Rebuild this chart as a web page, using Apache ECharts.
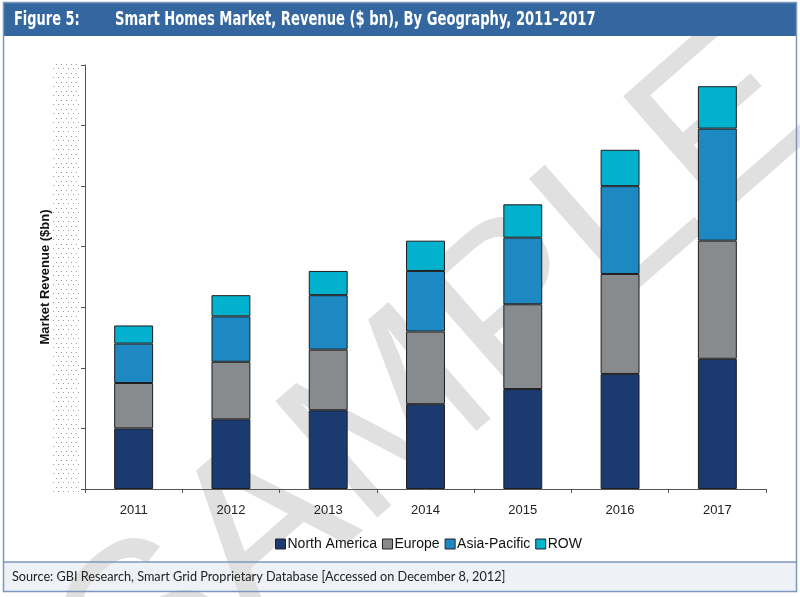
<!DOCTYPE html>
<html>
<head>
<meta charset="utf-8">
<script src="https://cdn.jsdelivr.net/npm/echarts@6/dist/echarts.min.js"></script>
<style>
  html, body { margin: 0; padding: 0; background: #fff; }
  #chart1 { width: 800px; height: 597px; }
</style>
</head>
<body>
<div id="chart1"></div>
<script>
// data ($bn, axis 0-14 with hidden labels)
var years = ["2011", "2012", "2013", "2014", "2015", "2016", "2017"];
var northAmerica = [2.0, 2.3, 2.6, 2.8, 3.3, 3.8, 4.3];
var europe = [1.5, 1.9, 2.0, 2.4, 2.8, 3.3, 3.9];
var asiaPacific = [1.3, 1.5, 1.8, 2.0, 2.2, 2.9, 3.7];
var row = [0.6, 0.7, 0.8, 1.0, 1.1, 1.2, 1.4];
var seriesNames = ["North America", "Europe", "Asia-Pacific", "ROW"];
var seriesColors = ["#1a3a70", "#878b8e", "#1e88c3", "#02b1cd"];

// small dotted pattern that hides the value labels
var dots = document.createElement("canvas");
dots.width = 5;
dots.height = 9;
var dc = dots.getContext("2d");
dc.fillStyle = "#9c9c9c";
dc.fillRect(1, 1, 1, 1);
dc.fillRect(3, 5, 1, 1);

var titleFont = "bold 20px 'Liberation Sans Narrow', 'DejaVu Sans Condensed', sans-serif";

var makeBar = function (name, values, idx) {
    return {
        name: name,
        type: "bar",
        stack: "total",
        barWidth: "40%",
        z: 5,
        itemStyle: { color: seriesColors[idx], borderColor: "#1e1e1e", borderWidth: 1 },
        data: values
    };
};

var myChart = echarts.init(document.getElementById("chart1"));
var option = {
    animation: false,
    textStyle: { fontFamily: "Liberation Sans, Arial, sans-serif" },
    grid: { left: 85, right: 34, top: 65, bottom: 108 },
    legend: {
        data: seriesNames,
        left: 270,
        top: 532,
        itemWidth: 10,
        itemHeight: 10,
        itemGap: 5,
        icon: "rect",
        itemStyle: { borderColor: "#222", borderWidth: 1 },
        textStyle: { fontSize: 14, color: "#111", padding: [0, 0, 0, -3] }
    },
    xAxis: {
        type: "category",
        data: years,
        axisLine: { lineStyle: { color: "#555", width: 1 } },
        axisTick: { show: true, length: 4, lineStyle: { color: "#555" } },
        axisLabel: { fontSize: 13, color: "#222", margin: 15 }
    },
    yAxis: {
        type: "value",
        min: 0,
        max: 14,
        interval: 2,
        name: "Market Revenue ($bn)",
        nameLocation: "middle",
        nameGap: 33,
        nameTextStyle: { fontSize: 13, fontWeight: "bold", color: "#111" },
        axisLine: { show: true, lineStyle: { color: "#555", width: 1 } },
        axisTick: { show: true, length: 4, lineStyle: { color: "#555" } },
        axisLabel: { show: false },
        splitLine: { show: false }
    },
    graphic: [
        // footer band
        { type: "rect", z: -3, shape: { x: 3, y: 562, width: 794, height: 30 },
          style: { fill: "#eef2f7" } },
        // watermark
        { type: "text", z: -2, x: 440, y: 380, rotation: 0.72,
          style: { text: "SAMPLE", fill: "#e0e0e0", font: "225px 'Liberation Sans', Arial, sans-serif",
                   align: "center", verticalAlign: "middle" } },
        // dotted strip over value labels
        { type: "rect", z: 3, shape: { x: 52, y: 60, width: 28, height: 433 },
          style: { fill: { image: dots, repeat: "repeat" } } },
        // header bar
        { type: "rect", z: 10, shape: { x: 3, y: 2, width: 794, height: 34 },
          style: { fill: "#3467a0" } },
        { type: "text", z: 11, x: 14, y: 20, scaleX: 0.72,
          style: { text: "Figure 5:", fill: "#fff", font: titleFont, verticalAlign: "middle" } },
        { type: "text", z: 11, x: 115, y: 20, scaleX: 0.73,
          style: { text: "Smart Homes Market, Revenue ($ bn), By Geography, 2011\u20132017", fill: "#fff",
                   font: titleFont, verticalAlign: "middle" } },
        // frame
        { type: "rect", z: 12, shape: { x: 3.5, y: 2.5, width: 793, height: 589 },
          style: { fill: null, stroke: "#7d96be", lineWidth: 1.5 } },
        { type: "line", z: 12, shape: { x1: 3, y1: 562, x2: 797, y2: 562 },
          style: { stroke: "#7d96be", lineWidth: 1.5 } },
        { type: "text", z: 12, x: 12, y: 577,
          style: { text: "Source: GBI Research, Smart Grid Proprietary Database [Accessed on December 8, 2012]",
                   fill: "#222", font: "12.7px Lato, 'Open Sans', sans-serif", verticalAlign: "middle" } }
    ],
    series: [
        makeBar(seriesNames[0], northAmerica, 0),
        makeBar(seriesNames[1], europe, 1),
        makeBar(seriesNames[2], asiaPacific, 2),
        makeBar(seriesNames[3], row, 3)
    ]
};
myChart.setOption(option);
</script>
</body>
</html>
